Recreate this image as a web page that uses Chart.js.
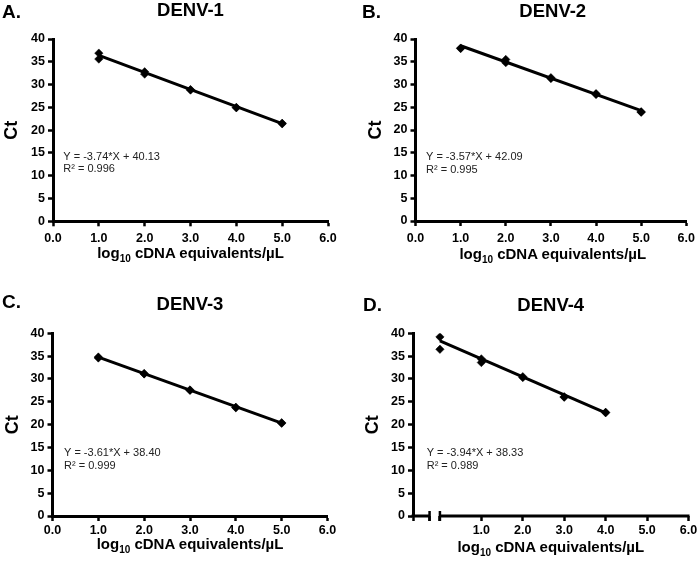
<!DOCTYPE html>
<html>
<head>
<meta charset="utf-8">
<script src="https://cdn.jsdelivr.net/npm/chart.js@4.4.1/dist/chart.umd.min.js"></script>
<style>
  body { margin: 0; background: #fff; }
  #fig { position: relative; width: 700px; height: 561px; overflow: hidden; font-family: "Liberation Sans", Arial, sans-serif; color: #000; }
  .panel { position: absolute; width: 350px; }
  .panel canvas { position: absolute; left: 0; top: 0; }
  .letter { position: absolute; font-weight: bold; font-size: 19px; line-height: 19px; white-space: nowrap; }
  .title { position: absolute; font-weight: bold; font-size: 18.5px; line-height: 18.5px; text-align: center; white-space: nowrap; }
  .xtitle { position: absolute; font-weight: bold; font-size: 15px; line-height: 15px; text-align: center; white-space: nowrap; }
  .xtitle .sub { font-size: 10px; position: relative; top: 4px; }
</style>
</head>
<body>
<div id="fig"></div>
<script>
// panel letters / titles
const letters = ['A.', 'B.', 'C.', 'D.'];
const titles = ['DENV-1', 'DENV-2', 'DENV-3', 'DENV-4'];

// log10 cDNA equivalents/uL (x) and Ct (y)
const xA = [1, 1, 2, 2, 3, 3, 4, 4, 5, 5];
const ctA = [36.9, 35.6, 32.8, 32.3, 28.9, 28.8, 25.0, 24.9, 21.5, 21.4];
const xB = [1, 1, 2, 2, 3, 3, 4, 4, 5, 5];
const ctB = [38.0, 37.9, 35.5, 34.8, 31.5, 31.3, 28.0, 27.8, 24.0, 23.9];
const xC = [1, 1, 2, 2, 3, 3, 4, 4, 5, 5];
const ctC = [34.8, 34.6, 31.2, 31.1, 27.6, 27.5, 23.8, 23.7, 20.4, 20.3];
const xD = [0, 0, 1, 1, 2, 2, 3, 3, 4, 4];
const ctD = [39.2, 36.5, 34.4, 33.6, 30.5, 30.3, 26.1, 26.0, 22.7, 22.6];

// linear fits printed on each panel
const slopes = [-3.74, -3.57, -3.61, -3.94];
const intercepts = [40.13, 42.09, 38.40, 38.33];
const r2 = ['0.996', '0.995', '0.999', '0.989'];

// axis ticks
const yTicks = [0, 5, 10, 15, 20, 25, 30, 35, 40];
const xTicks = [0, 1, 2, 3, 4, 5, 6];
const xTicksD = [-0.65, -0.25, 0, 1, 2, 3, 4, 5, 6]; // D has a broken x axis

const xs = [xA, xB, xC, xD];
const cts = [ctA, ctB, ctC, ctD];

// layout of each panel (px)
const layouts = [
  { left: 0,   top: 0,   h: 280, area: [53, 39, 328, 221.3],     ctX: 12.5, tickPad: 5, letter: [2, 10.8],  title: 10.5, xtitle: 252.5, eq: [10.3, 14.2] },
  { left: 350, top: 0,   h: 280, area: [65.5, 39, 340, 221],     ctX: 26,   tickPad: 5, letter: [12, 10.8], title: 11.5, xtitle: 253,   eq: [10.5, 14.0] },
  { left: 0,   top: 280, h: 281, area: [52.5, 53.3, 327.5, 236], ctX: 13,   tickPad: 2, letter: [2, 20.8],  title: 24.2, xtitle: 263,   eq: [11.5, 13.7] },
  { left: 350, top: 280, h: 281, area: [63, 53.3, 338.5, 236],   ctX: 23.5, tickPad: 2, letter: [13, 24],   title: 25,   xtitle: 266,   eq: [13.7, 13.7] }
];

const tickFont = { family: 'Liberation Sans', weight: 'bold', size: 12.5 };

const equationPlugin = {
  id: 'equation',
  afterDatasetsDraw(chart, args, opts) {
    const { ctx, chartArea } = chart;
    const y = chart.scales.y.getPixelForValue(opts.at);
    ctx.save();
    ctx.font = '11px "Liberation Sans", Arial, sans-serif';
    ctx.fillStyle = '#222';
    ctx.textBaseline = 'middle';
    ctx.textAlign = 'left';
    ctx.fillText(opts.lines[0], chartArea.left + opts.dx, y);
    ctx.fillText(opts.lines[1], chartArea.left + opts.dx, y + 12.7);
    ctx.restore();
  }
};

const breakPlugin = {
  id: 'axisBreak',
  afterDraw(chart, args, opts) {
    if (!opts.on) return;
    const { ctx, chartArea } = chart;
    const sx = chart.scales.x;
    const yb = chartArea.bottom;
    const p1 = sx.getPixelForValue(opts.from);
    const p2 = sx.getPixelForValue(opts.to);
    ctx.save();
    ctx.strokeStyle = '#000';
    ctx.lineWidth = 3;
    ctx.beginPath();
    ctx.moveTo(chartArea.left - 1.5, yb);
    ctx.lineTo(p1, yb);
    ctx.moveTo(p2, yb);
    ctx.lineTo(chartArea.right + 1, yb);
    ctx.stroke();
    ctx.lineWidth = 2.5;
    ctx.beginPath();
    ctx.moveTo(p1, yb - 5); ctx.lineTo(p1, yb + 5);
    ctx.moveTo(p2, yb - 5); ctx.lineTo(p2, yb + 5);
    ctx.stroke();
    ctx.restore();
  }
};

const fig = document.getElementById('fig');

layouts.forEach((L, i) => {
  const [al, at, ar, ab] = L.area;
  const panel = document.createElement('div');
  panel.className = 'panel';
  panel.style.left = L.left + 'px';
  panel.style.top = L.top + 'px';
  panel.style.height = L.h + 'px';
  fig.appendChild(panel);

  const canvas = document.createElement('canvas');
  canvas.width = 350;
  canvas.height = L.h;
  panel.appendChild(canvas);

  const letter = document.createElement('div');
  letter.className = 'letter';
  letter.textContent = letters[i];
  letter.style.left = L.letter[0] + 'px';
  letter.style.top = (L.letter[1] - 0.489 * 19) + 'px';
  panel.appendChild(letter);

  const title = document.createElement('div');
  title.className = 'title';
  title.textContent = titles[i];
  title.style.left = al + 'px';
  title.style.width = (ar - al) + 'px';
  title.style.top = (L.title - 0.489 * 18.5) + 'px';
  panel.appendChild(title);

  const xt = document.createElement('div');
  xt.className = 'xtitle';
  xt.innerHTML = 'log<span class="sub">10</span> cDNA equivalents/µL';
  xt.style.left = (al - 40) + 'px';
  xt.style.width = (ar - al + 80) + 'px';
  xt.style.top = (L.xtitle - 0.489 * 15) + 'px';
  panel.appendChild(xt);

  const x = xs[i], ct = cts[i];
  const x0 = Math.min(...x), x1 = Math.max(...x);
  const isD = i === 3;
  const padLeft = L.ctX - 12.8;

  new Chart(canvas, {
    type: 'scatter',
    data: {
      datasets: [
        {
          data: x.map((v, k) => ({ x: v, y: ct[k] })),
          pointStyle: 'rectRot',
          pointRadius: 4.2,
          backgroundColor: '#000',
          borderColor: '#000',
          borderWidth: 0.5,
          showLine: false
        },
        {
          data: [
            { x: x0, y: slopes[i] * x0 + intercepts[i] },
            { x: x1, y: slopes[i] * x1 + intercepts[i] }
          ],
          showLine: true,
          borderColor: '#000',
          borderWidth: 3,
          pointRadius: 0
        }
      ]
    },
    options: {
      responsive: false,
      animation: false,
      devicePixelRatio: 1,
      layout: { padding: { left: padLeft, top: at, right: 350 - ar, bottom: 0 } },
      plugins: {
        legend: { display: false },
        tooltip: { enabled: false },
        equation: {
          at: L.eq[1], dx: L.eq[0],
          lines: ['Y = ' + slopes[i].toFixed(2) + '*X + ' + intercepts[i].toFixed(2), 'R\u00B2 = ' + r2[i]]
        },
        axisBreak: { on: isD, from: -0.25, to: 0 }
      },
      scales: {
        x: {
          type: 'linear',
          min: isD ? xTicksD[0] : xTicks[0],
          max: 6,
          afterBuildTicks: s => { s.ticks = (isD ? xTicksD : xTicks).map(v => ({ value: v })); },
          afterFit: s => { s.height = L.h - ab; },
          border: { display: !isD, width: 3, color: '#000' },
          grid: { drawOnChartArea: false, drawTicks: true, tickLength: 5, tickWidth: 2.5, tickColor: '#000' },
          ticks: {
            color: '#000', font: tickFont, padding: L.tickPad, maxRotation: 0, autoSkip: false,
            callback: v => (isD && v < 1) ? '' : v.toFixed(1)
          }
        },
        y: {
          min: 0,
          max: 40,
          afterBuildTicks: s => { s.ticks = yTicks.map(v => ({ value: v })); },
          afterFit: s => { s.width = al - padLeft; },
          border: { display: true, width: 3, color: '#000' },
          grid: { drawOnChartArea: false, drawTicks: true, tickLength: 5, tickWidth: 2.5, tickColor: '#000' },
          ticks: { color: '#000', font: tickFont, padding: 3, autoSkip: false },
          title: {
            display: true, text: 'Ct', color: '#000',
            font: { family: 'Liberation Sans', weight: 'bold', size: 18 },
            padding: { top: 2, bottom: 0 }
          }
        }
      }
    },
    plugins: [equationPlugin, breakPlugin]
  });
});
</script>
</body>
</html>
